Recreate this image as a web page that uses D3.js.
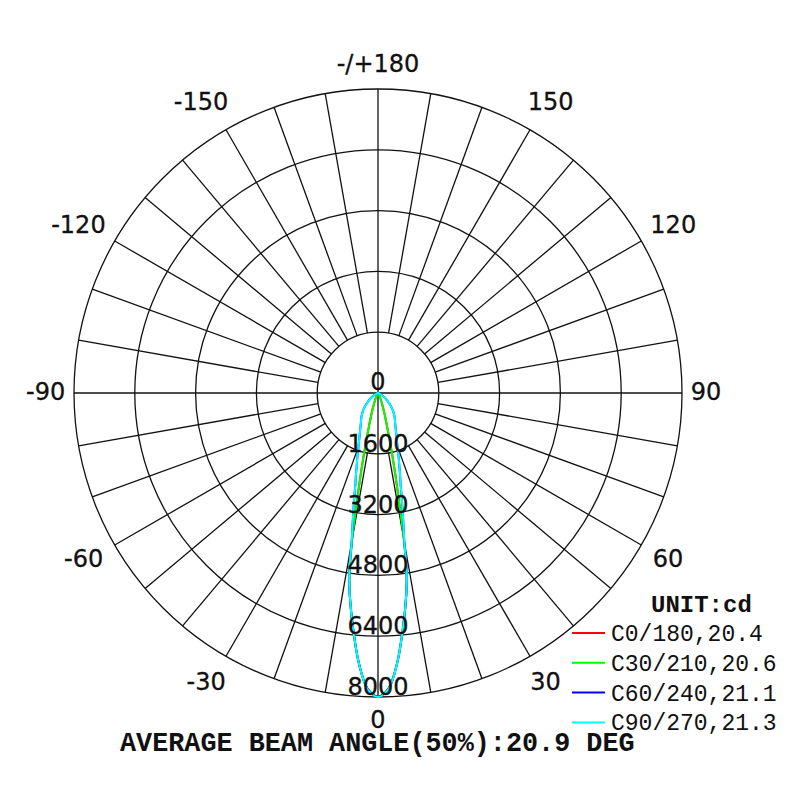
<!DOCTYPE html>
<html>
<head>
<meta charset="utf-8">
<script src="https://cdn.jsdelivr.net/npm/d3@7"></script>
<style>
  body { margin: 0; background: #fff; }
  .grid { fill: none; stroke: #111; stroke-width: 1.3; }
  .ang-label { font-family: "DejaVu Sans", sans-serif; font-size: 24px; fill: #111; stroke: #111; stroke-width: 0.3; }
  .ring-label { font-family: "DejaVu Sans", sans-serif; font-size: 24px; fill: #111; stroke: #111; stroke-width: 0.3; }
  .mono { font-family: "Liberation Mono", "Courier New", monospace; fill: #111; }
</style>
</head>
<body>
<div id="chart"></div>
<script>
// intensity rings (cd)
const ringValues = [1600, 3200, 4800, 6400, 8000];
// angle labels around the diagram
const angleTicks = [0, 30, 60, 90, 120, 150, 180, -150, -120, -90, -60, -30];
// gamma angles (deg) for the measured intensities
const gammas = [0, 2, 4, 6, 8, 9, 10, 11, 12, 13, 14, 15, 16, 18, 20, 22, 25, 30, 35, 40, 45, 50, 55, 60, 70, 80, 90];
// intensities per C-plane (cd), same on both halves
const c0 = [8000, 7800, 7150, 6250, 5350, 4800, 3950, 2900, 2200, 1650, 1250, 950, 760, 500, 330, 220, 130, 60, 30, 15, 5, 0, 0, 0, 0, 0, 0];
const c30 = [7980, 7790, 7140, 6240, 5340, 4790, 3930, 2880, 2180, 1630, 1230, 940, 750, 490, 320, 215, 125, 55, 28, 14, 5, 0, 0, 0, 0, 0, 0];
const c60 = [7990, 7790, 7150, 6250, 5350, 4850, 4000, 3500, 3100, 2750, 2450, 2250, 2050, 1750, 1500, 1320, 1120, 900, 760, 620, 470, 330, 220, 130, 40, 10, 0];
const c90 = [8000, 7800, 7150, 6250, 5350, 4850, 4000, 3500, 3100, 2750, 2450, 2250, 2050, 1750, 1500, 1320, 1120, 900, 760, 620, 470, 330, 220, 130, 40, 10, 0];
const seriesNames = ["C0/180,20.4", "C30/210,20.6", "C60/240,21.1", "C90/270,21.3"];
const seriesColors = ["#ff0000", "#00ff00", "#0000ff", "#00ffff"];
const seriesValues = [c0, c30, c60, c90];

const width = 800, height = 800;
const cx = 378, cy = 393, R = 304;

const svg = d3.select("#chart").append("svg")
    .attr("width", width)
    .attr("height", height);

const rScale = d3.scaleLinear().domain([0, 8000]).range([0, R]);
// 0 deg at the bottom, positive angles to the right
const toRad = d => (180 - d) * Math.PI / 180;

const g = svg.append("g").attr("transform", "translate(" + cx + "," + cy + ")");

// rings
g.selectAll("circle.ring").data(ringValues).enter().append("circle")
    .attr("class", "grid")
    .attr("r", d => rScale(d));

// spokes every 10 deg, from the first ring outwards
const spokes = d3.range(0, 360, 10).filter(d => d % 90 !== 0);
g.selectAll("line.spoke").data(spokes).enter().append("line")
    .attr("class", "grid")
    .attr("x1", d => rScale(1600) * Math.sin(toRad(d)))
    .attr("y1", d => -rScale(1600) * Math.cos(toRad(d)))
    .attr("x2", d => R * Math.sin(toRad(d)))
    .attr("y2", d => -R * Math.cos(toRad(d)));

// full axes through the centre
g.selectAll("line.axis").data([0, 90]).enter().append("line")
    .attr("class", "grid")
    .attr("x1", d => R * Math.sin(toRad(d)))
    .attr("y1", d => -R * Math.cos(toRad(d)))
    .attr("x2", d => -R * Math.sin(toRad(d)))
    .attr("y2", d => R * Math.cos(toRad(d)));

// angle labels: digits centred on the angle, minus sign hangs to the left
const probe = g.append("text").attr("class", "ang-label").text("-");
const minusW = probe.node().getComputedTextLength();
probe.remove();
const labelR = d => 328 + 8 * Math.abs(Math.sin(2 * d * Math.PI / 180));
const labelX = function(d) {
    let x = labelR(d) * Math.sin(toRad(d));
    // upper labels sit a little further out sideways
    if (Math.abs(d) > 90) x += 6 * Math.sign(x) * Math.abs(Math.sin(2 * d * Math.PI / 180));
    return x - (d < 0 ? minusW / 2 : 0);
};
g.selectAll("text.ang").data(angleTicks).enter().append("text")
    .attr("class", "ang-label")
    .attr("text-anchor", "middle")
    .attr("dominant-baseline", "central")
    .attr("x", labelX)
    .attr("y", d => -labelR(d) * Math.cos(toRad(d)) - 1)
    .text(d => d === 180 ? "-/+180" : d);

// curves
const line = d3.lineRadial()
    .angle(d => toRad(d.a))
    .radius(d => rScale(d.v))
    .curve(d3.curveCatmullRom);

seriesValues.forEach(function(vals, i) {
    let pts = [];
    for (let k = gammas.length - 1; k >= 0; k--) pts.push({ a: -gammas[k], v: vals[k] });
    for (let k = 1; k < gammas.length; k++) pts.push({ a: gammas[k], v: vals[k] });
    g.append("path")
        .attr("d", line(pts))
        .attr("fill", "none")
        .attr("stroke", seriesColors[i])
        .attr("stroke-width", 2);
});

// ring labels (drawn over the curves)
g.append("text").attr("class", "ring-label")
    .attr("text-anchor", "middle")
    .attr("y", -3)
    .text("0");
g.selectAll("text.ring").data(ringValues).enter().append("text")
    .attr("class", "ring-label")
    .attr("text-anchor", "middle")
    .attr("y", d => rScale(d) - 2)
    .text(d => d);

// legend
svg.append("text").attr("class", "mono")
    .attr("x", 651).attr("y", 612)
    .style("font-size", "24px").style("font-weight", "bold")
    .text("UNIT:cd");

const leg = svg.selectAll("g.leg").data(seriesNames).enter().append("g")
    .attr("transform", (d, i) => "translate(572," + (633 + i * 29.8) + ")");
leg.append("line")
    .attr("x1", 0).attr("x2", 33)
    .attr("stroke", (d, i) => seriesColors[i])
    .attr("stroke-width", 2);
leg.append("text").attr("class", "mono")
    .attr("x", 39).attr("y", 8)
    .style("font-size", "23px")
    .text(d => d);

svg.append("text").attr("class", "mono")
    .attr("x", 120).attr("y", 751)
    .style("font-size", "26.8px").style("font-weight", "bold")
    .text("AVERAGE BEAM ANGLE(50%):20.9 DEG");
</script>
</body>
</html>
